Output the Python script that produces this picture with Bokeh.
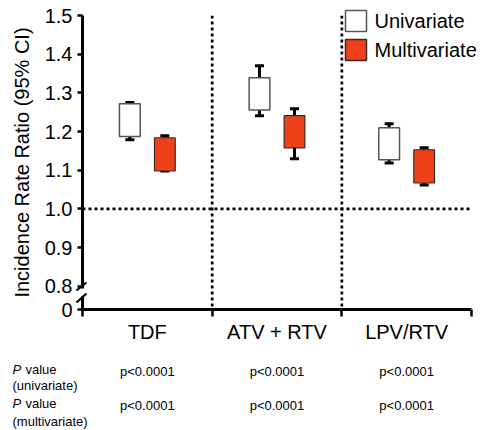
from bokeh.plotting import figure
from bokeh.models import Range1d, FixedTicker, Span
from bokeh.embed import file_html
from bokeh.resources import INLINE
from bokeh.core.properties import value

# ---------------- data ----------------
categories = ["TDF", "ATV + RTV", "LPV/RTV"]
uni_box_low = [1.187, 1.256, 1.127]
uni_box_high = [1.272, 1.339, 1.210]
uni_ci_low = [1.179, 1.241, 1.119]
uni_ci_high = [1.275, 1.370, 1.220]
multi_box_low = [1.098, 1.158, 1.067]
multi_box_high = [1.184, 1.241, 1.153]
multi_ci_low = [1.098, 1.130, 1.062]
multi_ci_high = [1.189, 1.259, 1.158]
axis_floor = 0.74  # broken-axis position for "0"
y_ticks = [0.74, 0.8, 0.9, 1.0, 1.1, 1.2, 1.3, 1.4, 1.5]
y_tick_labels = ["0", "0.8", "0.9", "1.0", "1.1", "1.2", "1.3", "1.4", "1.5"]
ref_line = 1.0
series_names = ["Univariate", "Multivariate"]
p_univariate = ["p<0.0001", "p<0.0001", "p<0.0001"]
p_multivariate = ["p<0.0001", "p<0.0001", "p<0.0001"]
row_heads = [("P", "value", "(univariate)"), ("P", "value", "(multivariate)")]

# ---------------- layout constants ----------------
FONT = "Liberation Sans"
W, H = 487, 430
LEFT, RIGHT, TOP = 82, 16, 15
FRAME_BOTTOM = 309
FRAME_W = W - LEFT - RIGHT
FRAME_H = FRAME_BOTTOM - TOP
UNI_COLOR = "white"
UNI_LINE = "#555555"
MULTI_COLOR = "#EF401A"
MULTI_LINE = "#3a2a25"
OFFSET = 0.135
BAR_W = 0.16

n = len(categories)
xc = [i + 1 for i in range(n)]
x_uni = [x - OFFSET for x in xc]
x_multi = [x + OFFSET for x in xc]

p = figure(width=W, height=H, x_range=Range1d(0.5, n + 0.5),
           y_range=Range1d(axis_floor, 1.5), output_backend="svg",
           toolbar_location=None, min_border_left=LEFT, min_border_right=RIGHT,
           min_border_top=TOP, min_border_bottom=H - FRAME_BOTTOM)
p.xgrid.visible = False
p.ygrid.visible = False
p.outline_line_color = None
p.background_fill_color = "white"
p.border_fill_color = "white"


def px2x(px):
    return 0.5 + (px - LEFT) * n / FRAME_W


def py2y(py):
    return 1.5 - (py - TOP) * (1.5 - axis_floor) / FRAME_H


# reference lines
p.add_layout(Span(location=ref_line, dimension="width", line_color="black",
                  line_width=2.7, line_dash="3 3"))
for b in [1.5, 2.5]:
    p.add_layout(Span(location=b, dimension="height", line_color="black",
                      line_width=2.7, line_dash="3 3"))

# whiskers
for xs, lo, hi in [(x_uni, uni_ci_low, uni_ci_high), (x_multi, multi_ci_low, multi_ci_high)]:
    p.segment(x0=xs, y0=lo, x1=xs, y1=hi, line_color="black", line_width=3)
    p.scatter(x=xs + xs, y=lo + hi, marker="dash", size=9, line_color="black", line_width=3)

p.vbar(x=x_uni, bottom=uni_box_low, top=uni_box_high, width=BAR_W,
       fill_color=UNI_COLOR, line_color=UNI_LINE, line_width=1.5)
p.vbar(x=x_multi, bottom=multi_box_low, top=multi_box_high, width=BAR_W,
       fill_color=MULTI_COLOR, line_color=MULTI_LINE, line_width=1.2)

# legend (drawn unclipped, it runs past the plot frame)
leg_top = [10, 39]
for i, (name, fc, lc) in enumerate(zip(series_names, [UNI_COLOR, MULTI_COLOR], [UNI_LINE, MULTI_LINE])):
    p.quad(left=[px2x(345)], right=[px2x(366)], top=[py2y(leg_top[i])],
           bottom=[py2y(leg_top[i] + 21)], fill_color=fc, line_color=lc,
           line_width=1.5, level="overlay")
    p.text(x=[px2x(374)], y=[py2y(leg_top[i] + 10.5)], text=[name],
           text_font=value(FONT), text_font_size="20px", text_baseline="middle",
           text_color="black", level="overlay")

# y axis
yax = p.yaxis[0]
yax.ticker = FixedTicker(ticks=y_ticks)
yax.major_label_overrides = {t: l for t, l in zip(y_ticks, y_tick_labels)}
yax.axis_line_width = 3
yax.major_tick_line_width = 2.5
yax.major_tick_out = 5
yax.major_tick_in = 0
yax.minor_tick_out = 0
yax.minor_tick_in = 0
yax.major_label_standoff = 5
yax.major_label_text_font = FONT
yax.major_label_text_font_size = "20px"
yax.major_label_text_color = "black"
yax.axis_label = "Incidence Rate Ratio (95% CI)"
yax.axis_label_text_font = FONT
yax.axis_label_text_font_size = "20px"
yax.axis_label_text_font_style = "normal"
yax.axis_label_text_color = "black"
yax.axis_label_standoff = 9

# x axis
xax = p.xaxis[0]
xax.ticker = FixedTicker(ticks=xc, minor_ticks=[0.5 + i for i in range(n + 1)])
xax.major_label_overrides = {x: c for x, c in zip(xc, categories)}
xax.axis_line_width = 3
xax.major_tick_out = 0
xax.major_tick_in = 0
xax.minor_tick_out = 7
xax.minor_tick_in = 0
xax.minor_tick_line_width = 2.5
xax.minor_tick_line_color = "black"
xax.major_label_standoff = 4
xax.major_label_text_font = FONT
xax.major_label_text_font_size = "20px"
xax.major_label_text_color = "black"

# axis break marks (drawn unclipped over the axis)
p.quad(left=[px2x(79)], right=[px2x(86)], top=[py2y(288)], bottom=[py2y(296)],
       fill_color="white", line_color=None, level="overlay")
p.segment(x0=[px2x(76), px2x(76)], y0=[py2y(290), py2y(302)],
          x1=[px2x(86), px2x(86)], y1=[py2y(282), py2y(293)],
          line_color="black", line_width=2.2, level="overlay")

# ---------------- P-value table (below the axis) ----------------
row_y = [371, 405]
head_y = [369, 403]
sub_y = [385, 421]
for r, vals in enumerate([p_univariate, p_multivariate]):
    p.text(x=xc, y=[py2y(row_y[r])] * n, text=vals, text_font=value(FONT),
           text_font_size="13px", text_align="center", text_baseline="middle",
           text_color="black", level="overlay")
    ph, pv, sub = row_heads[r]
    p.text(x=[px2x(12)], y=[py2y(head_y[r])], text=[ph], text_font=value(FONT),
           text_font_size="13px", text_font_style="italic",
           text_baseline="middle", text_color="black", level="overlay")
    p.text(x=[px2x(25)], y=[py2y(head_y[r])], text=[pv], text_font=value(FONT),
           text_font_size="13px", text_baseline="middle", text_color="black",
           level="overlay")
    p.text(x=[px2x(12)], y=[py2y(sub_y[r])], text=[sub], text_font=value(FONT),
           text_font_size="13px", text_baseline="middle", text_color="black",
           level="overlay")

open("out.html", "w").write(file_html(p, INLINE))
